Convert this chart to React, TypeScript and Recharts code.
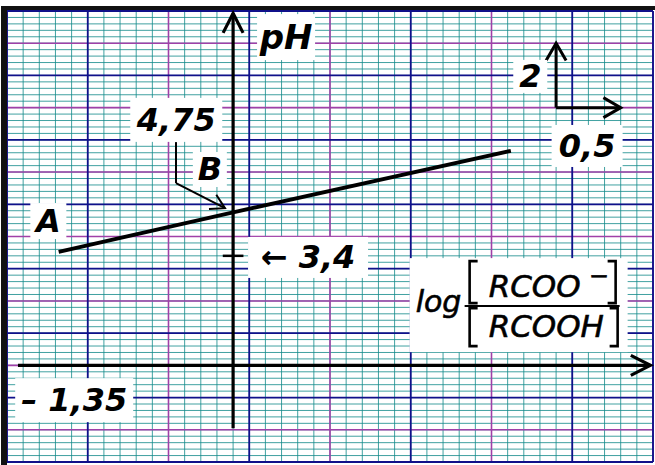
import React from 'react';
import {
  LineChart,
  Line,
  XAxis,
  YAxis,
  CartesianGrid,
  ReferenceLine,
  ReferenceDot,
} from 'recharts';

const W = 655;
const H = 465;
const FONT = '"DejaVu Sans", Verdana, sans-serif';

// Buffer line: pH against log([RCOO-]/[RCOOH])
const logRatio = [-1.35, 0, 2.15];
const pHValues = [3.52, 4.75, 6.66];
const bufferLine = logRatio.map((v, i) => ({ log: v, pH: pHValues[i] }));

// Marked values
const pKa = 4.75; // point B
const logA = -1.35; // abscissa of point A
const pHTick = 3.4; // tick on the pH axis

// Scale indicator: 0.5 log unit across, 2 pH units up
const scaleOrigin = { log: 2.5, pH: 8 };
const scaleLog = 0.5;
const scalePH = 2;

// Extent of the sheet of graph paper
const LOG_DOMAIN: [number, number] = [-1.75, 3.25];
const PH_DOMAIN: [number, number] = [-3, 11];

function steps(from: number, to: number, step: number) {
  const n = Math.round((to - from) / step);
  return Array.from({ length: n + 1 }, (_, i) => Math.round((from + i * step) * 1000) / 1000);
}
const minorLog = steps(-1.75, 3.25, 0.05);
const halfLog = steps(-1.5, 3, 0.5);
const blueLog = steps(-1.75, 3.25, 0.5);
const minorPh = steps(-3, 11, 0.2);
const evenPh = steps(-2, 10, 2);
const oddPh = steps(-3, 11, 2);

const fmt = (v: number) => String(v).replace('.', ',');

function arrowShape(width: number, head: number, spread = 28) {
  return (p: any) => {
    const { x1, y1, x2, y2 } = p;
    const a = Math.atan2(y2 - y1, x2 - x1);
    const s = (spread * Math.PI) / 180;
    const hx1 = x2 - head * Math.cos(a - s);
    const hy1 = y2 - head * Math.sin(a - s);
    const hx2 = x2 - head * Math.cos(a + s);
    const hy2 = y2 - head * Math.sin(a + s);
    return (
      <g>
        <line x1={x1} y1={y1} x2={x2} y2={y2} stroke="#000" strokeWidth={width} strokeLinecap="butt" />
        {head > 0 && (
          <polyline
            points={`${hx1},${hy1} ${x2},${y2} ${hx2},${hy2}`}
            fill="none"
            stroke="#000"
            strokeWidth={width}
          />
        )}
      </g>
    );
  };
}

function boxLabel(text: string, w: number, h: number, size: number, dy = 0) {
  return (p: any) => (
    <g>
      <rect x={p.cx - w / 2} y={p.cy - h / 2} width={w} height={h} fill="#fff" />
      <text
        x={p.cx}
        y={p.cy + dy}
        textAnchor="middle"
        dominantBaseline="central"
        fontFamily={FONT}
        fontWeight="bold"
        fontStyle="italic"
        fontSize={size}
        fill="#000"
      >
        {text}
      </text>
    </g>
  );
}

function bracket(x: number, y1: number, y2: number, dir: number) {
  const s = 8 * dir;
  return (
    <polyline
      points={`${x + s},${y1} ${x},${y1} ${x},${y2} ${x + s},${y2}`}
      fill="none"
      stroke="#000"
      strokeWidth={2.6}
    />
  );
}

function fractionLabel(p: any) {
  const { cx, cy } = p;
  const t = {
    fontFamily: FONT,
    fontStyle: 'italic' as const,
    fill: '#000',
    stroke: '#000',
    strokeWidth: 0.6,
  };
  return (
    <g>
      <rect x={cx - 109} y={cy - 47} width={218} height={94} fill="#fff" />
      <text x={cx - 103} y={cy + 7} fontSize={30} {...t}>
        log
      </text>
      {bracket(cx - 49, cy - 44, cy - 2, 1)}
      <text x={cx - 30} y={cy - 8} fontSize={31} {...t}>
        RCOO
      </text>
      <text x={cx + 70} y={cy - 21} fontSize={24} {...t}>
        −
      </text>
      {bracket(cx + 97, cy - 44, cy - 2, -1)}
      <line x1={cx - 54} y1={cy + 1} x2={cx + 101} y2={cy + 1} stroke="#000" strokeWidth={2} />
      {bracket(cx - 49, cy + 3, cy + 41, 1)}
      <text x={cx - 30} y={cy + 32} fontSize={31} {...t}>
        RCOOH
      </text>
      {bracket(cx + 99, cy + 3, cy + 41, -1)}
    </g>
  );
}

const ax = { xAxisId: 'main', yAxisId: 'main' };

export default function App() {
  return (
    <div style={{ position: 'absolute', left: 0, top: 0, width: W, height: H, background: '#fff' }}>
      <LineChart
        width={W}
        height={H}
        data={bufferLine}
        margin={{ top: 11, right: 2, bottom: 3, left: 7 }}
      >
        <XAxis xAxisId="minor" type="number" domain={LOG_DOMAIN} ticks={minorLog} interval={0} hide allowDataOverflow />
        <XAxis xAxisId="half" type="number" domain={LOG_DOMAIN} ticks={halfLog} interval={0} hide allowDataOverflow />
        <XAxis xAxisId="blue" type="number" domain={LOG_DOMAIN} ticks={blueLog} interval={0} hide allowDataOverflow />
        <XAxis xAxisId="main" dataKey="log" type="number" domain={LOG_DOMAIN} hide allowDataOverflow />
        <YAxis yAxisId="minor" type="number" domain={PH_DOMAIN} ticks={minorPh} interval={0} hide allowDataOverflow />
        <YAxis yAxisId="half" type="number" domain={PH_DOMAIN} ticks={evenPh} interval={0} hide allowDataOverflow />
        <YAxis yAxisId="blue" type="number" domain={PH_DOMAIN} ticks={oddPh} interval={0} hide allowDataOverflow />
        <YAxis yAxisId="main" type="number" domain={PH_DOMAIN} hide allowDataOverflow />

        <CartesianGrid xAxisId="minor" yAxisId="minor" stroke="#118a8a" strokeOpacity={0.8} strokeWidth={1} fill="none" />
        <CartesianGrid xAxisId="half" yAxisId="half" stroke="#a040a8" strokeWidth={1.6} fill="none" />
        <CartesianGrid xAxisId="blue" yAxisId="blue" stroke="#10108a" strokeWidth={1.8} fill="none" />

        {/* axes */}
        <ReferenceLine {...ax} segment={[{ x: -1.665, y: 0 }, { x: 3.23, y: 0 }]} shape={arrowShape(3.2, 22, 27)} />
        <ReferenceLine {...ax} segment={[{ x: 0, y: -1.95 }, { x: 0, y: 10.93 }]} shape={arrowShape(3.2, 22, 27)} />
        <ReferenceLine {...ax} segment={[{ x: -0.08, y: pHTick }, { x: 0.08, y: pHTick }]} shape={arrowShape(2.5, 0)} />

        {/* scale indicator */}
        <ReferenceLine
          {...ax}
          segment={[{ x: scaleOrigin.log, y: scaleOrigin.pH }, { x: scaleOrigin.log, y: scaleOrigin.pH + scalePH }]}
          shape={arrowShape(3, 20, 30)}
        />
        <ReferenceLine
          {...ax}
          segment={[{ x: scaleOrigin.log, y: scaleOrigin.pH }, { x: scaleOrigin.log + scaleLog, y: scaleOrigin.pH }]}
          shape={arrowShape(3, 20, 30)}
        />

        {/* pointer from the pKa label to B */}
        <ReferenceLine {...ax} segment={[{ x: -0.442, y: 6.93 }, { x: -0.442, y: 5.66 }]} shape={arrowShape(2, 0)} />
        <ReferenceLine {...ax} segment={[{ x: -0.442, y: 5.66 }, { x: -0.063, y: 4.88 }]} shape={arrowShape(2, 16, 30)} />

        <Line
          {...ax}
          type="linear"
          dataKey="pH"
          stroke="#000"
          strokeWidth={3.8}
          dot={false}
          activeDot={false}
          isAnimationActive={false}
        />

        {/* labels */}
        <ReferenceDot {...ax} x={0.41} y={10.19} r={1} shape={boxLabel('pH', 58, 46, 34)} />
        <ReferenceDot {...ax} x={2.3} y={8.97} r={1} shape={boxLabel(fmt(scalePH), 34, 33, 32)} />
        <ReferenceDot {...ax} x={2.74} y={6.81} r={1} shape={boxLabel(fmt(scaleLog), 71, 42, 32)} />
        <ReferenceDot {...ax} x={-0.44} y={7.62} r={1} shape={boxLabel(fmt(pKa), 92, 44, 32)} />
        <ReferenceDot {...ax} x={-0.18} y={6.08} r={1} shape={boxLabel('B', 34, 35, 32)} />
        <ReferenceDot {...ax} x={-1.43} y={4.48} r={1} shape={boxLabel('A', 36, 36, 32)} />
        <ReferenceDot {...ax} x={0.58} y={3.35} r={1} shape={boxLabel(`← ${fmt(pHTick)}`, 120, 41, 32)} />
        <ReferenceDot {...ax} x={2.21} y={1.87} r={1} shape={fractionLabel} />
        <ReferenceDot {...ax} x={-1.23} y={-1.08} r={1} shape={boxLabel(`– ${fmt(Math.abs(logA))}`, 118, 44, 32)} />
      </LineChart>
      <div
        style={{
          position: 'absolute',
          left: 1,
          top: 6,
          width: 654,
          height: 459,
          borderTop: '4px solid #111',
          borderLeft: '6px solid #111',
          boxSizing: 'border-box',
          pointerEvents: 'none',
        }}
      />
    </div>
  );
}
